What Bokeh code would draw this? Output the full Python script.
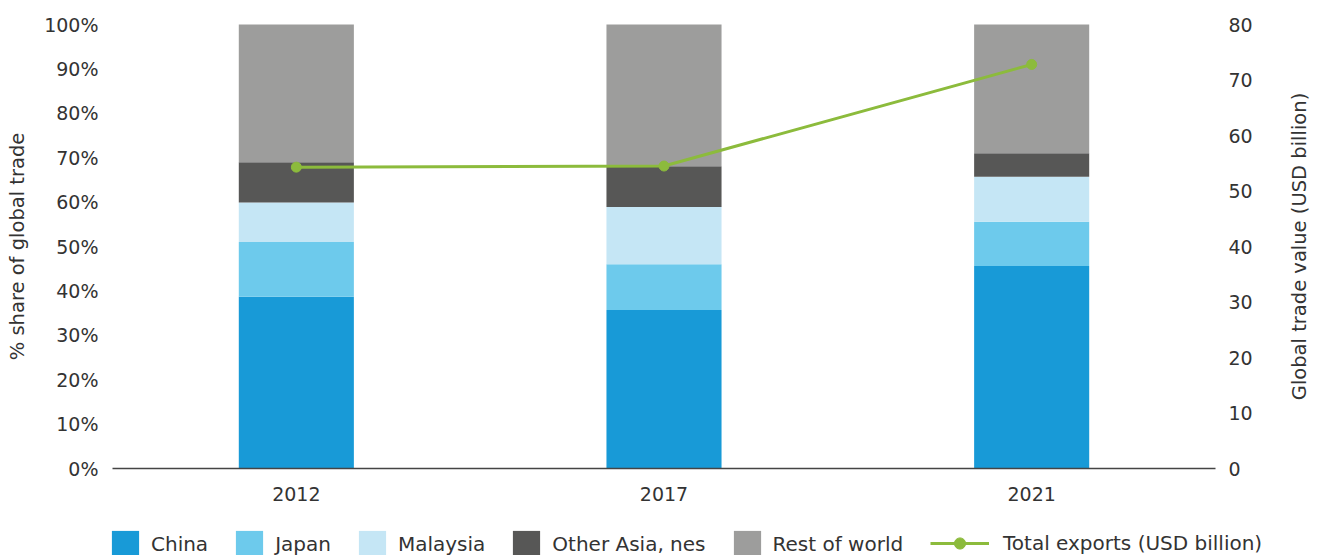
import math
from bokeh.plotting import figure
from bokeh.models import (Range1d, LinearAxis, FixedTicker, PrintfTickFormatter,
                          Legend, LegendItem, Label)
from bokeh.embed import file_html
from bokeh.resources import INLINE

# ---- data ----
years = ["2012", "2017", "2021"]
china = [38.7, 35.7, 45.6]
japan = [12.3, 10.3, 10.0]
malaysia = [8.9, 12.9, 10.1]
other_asia = [9.1, 9.2, 5.3]
rest_of_world = [31.0, 31.9, 29.0]
total_exports = [54.3, 54.5, 72.8]

series_names = ["China", "Japan", "Malaysia", "Other Asia, nes", "Rest of world"]
line_name = "Total exports (USD billion)"
left_title = "% share of global trade"
right_title = "Global trade value (USD billion)"
pct_ticks = list(range(0, 101, 10))
usd_ticks = list(range(0, 81, 10))

# ---- styles / layout (pixels) ----
series_keys = ["china", "japan", "malaysia", "other", "rest"]
colors = ["#189ad7", "#6dcaec", "#c5e6f5", "#575756", "#9d9d9c"]
line_color = "#8cbb3c"
FONT = "DejaVu Sans"
TXT = "#333333"

W, H = 1320, 555
X0, X1 = 112, 1215          # plot-area left / right
TOP, ZERO = 24, 468         # plot-area top / zero line
PCT_MAX, USD_MAX = 100, 80

ncat = len(years)
unit_x = (X1 - X0) / ncat
below = (H - ZERO) / (ZERO - TOP)
above = TOP / (ZERO - TOP)

idx = list(range(ncat))
data = dict(x=idx, china=china, japan=japan, malaysia=malaysia,
            other=other_asia, rest=rest_of_world)

p = figure(x_range=Range1d(-0.5 - X0 / unit_x, ncat - 0.5 + (W - X1) / unit_x),
           y_range=Range1d(-PCT_MAX * below, PCT_MAX * (1 + above)),
           width=W, height=H, output_backend="svg", toolbar_location=None,
           min_border=0, min_border_left=0, min_border_right=0,
           min_border_top=0, min_border_bottom=0)
p.outline_line_color = None
p.grid.visible = False
p.background_fill_color = "white"
p.border_fill_color = "white"

bars = p.vbar_stack(series_keys, x="x", width=0.313, color=colors,
                    line_color=None, source=data)

p.extra_y_ranges = {"usd": Range1d(-USD_MAX * below, USD_MAX * (1 + above))}
ln = p.line(idx, total_exports, y_range_name="usd", line_width=3, color=line_color)
sc = p.scatter(idx, total_exports, y_range_name="usd", size=10, color=line_color)

# left axis (on the left edge of the plot area)
ya = p.yaxis[0]
ya.fixed_location = -0.5
ya.ticker = FixedTicker(ticks=pct_ticks)
ya.formatter = PrintfTickFormatter(format="%d%%")
ya.major_label_standoff = 14

# right axis
ra = LinearAxis(y_range_name="usd", ticker=FixedTicker(ticks=usd_ticks),
                fixed_location=ncat - 0.5)
ra.major_label_standoff = 13
p.add_layout(ra, "right")

# x axis on the zero line
xa = p.xaxis[0]
xa.fixed_location = 0
xa.bounds = (-0.5, ncat - 0.5)
xa.ticker = FixedTicker(ticks=idx)
xa.major_label_overrides = {i: y for i, y in zip(idx, years)}
xa.axis_line_color = "#444444"
xa.axis_line_width = 1.3
xa.major_label_standoff = 18

for ax in [ya, ra]:
    ax.axis_line_color = None

for ax in [ya, ra, xa]:
    ax.major_tick_line_color = None
    ax.minor_tick_line_color = None
    ax.major_tick_out = 0
    ax.major_tick_in = 0
    ax.minor_tick_out = 0
    ax.minor_tick_in = 0
    ax.major_label_text_font = FONT
    ax.major_label_text_font_size = "19px"
    ax.major_label_text_color = TXT

# axis titles
p.add_layout(Label(x=17, x_units="screen", y=PCT_MAX / 2, y_units="data",
                   text=left_title, angle=math.pi / 2, text_align="center",
                   text_baseline="middle", text_font=FONT,
                   text_font_size="19.5px", text_color=TXT))
p.add_layout(Label(x=1299, x_units="screen", y=USD_MAX / 2, y_units="data",
                   y_range_name="usd",
                   text=right_title, angle=math.pi / 2, text_align="center",
                   text_baseline="middle", text_font=FONT,
                   text_font_size="19.5px", text_color=TXT))

# legends
items1 = [LegendItem(label=n, renderers=[r]) for n, r in zip(series_names, bars)]
leg1 = Legend(items=items1, orientation="horizontal", location=(108, -5.5),
              glyph_width=34, glyph_height=34, label_standoff=9, spacing=24,
              padding=0, margin=0, border_line_color=None,
              background_fill_alpha=0, label_text_font=FONT,
              label_text_font_size="20px", label_text_color=TXT,
              label_height=20)
leg2 = Legend(items=[LegendItem(label=line_name, renderers=[ln, sc])],
              orientation="horizontal", location=(930, -1.5),
              glyph_width=59, glyph_height=28, label_standoff=14,
              padding=0, margin=0, border_line_color=None,
              background_fill_alpha=0, label_text_font=FONT,
              label_text_font_size="20px", label_text_color=TXT,
              label_height=20)
p.add_layout(leg1)
p.add_layout(leg2)

open("out.html", "w").write(file_html(p, INLINE))
